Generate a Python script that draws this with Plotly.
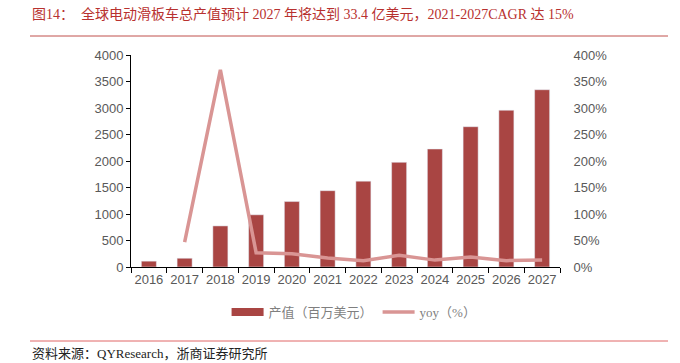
import plotly.graph_objects as go

years = ["2016", "2017", "2018", "2019", "2020", "2021", "2022", "2023", "2024", "2025", "2026", "2027"]
output_value = [110, 165, 775, 985, 1235, 1440, 1620, 1975, 2226, 2647, 2957, 3345]
yoy_years = ["2017", "2018", "2019", "2020", "2021", "2022", "2023", "2024", "2025", "2026", "2027"]
yoy_pct = [47, 372, 27, 25, 17, 12, 22, 13, 19, 12, 13]
left_ticks = [0, 500, 1000, 1500, 2000, 2500, 3000, 3500, 4000]
right_ticks = [0, 50, 100, 150, 200, 250, 300, 350, 400]

BAR = "#A94543"
LINE = "#D99594"
GRAY = "#595959"
TITLE_RED = "#B8312F"

L, R, T, B = 131, 120, 55, 96
W, H = 680, 363
pw = W - L - R
ph = H - T - B

def px(x):
    return (x - L) / pw

def py(y):
    return (H - B - y) / ph

fig = go.Figure()
fig.add_trace(go.Bar(x=years, y=output_value, marker_color=BAR, width=0.42,
                     showlegend=False, yaxis="y"))
fig.add_trace(go.Scatter(x=yoy_years, y=yoy_pct, mode="lines",
                         line=dict(color=LINE, width=3.5, shape="linear"),
                         showlegend=False, yaxis="y2"))
fig.add_trace(go.Scatter(x=[None], y=[None], mode="lines", name="产值（百万美元）",
                         line=dict(color=BAR, width=8)))
fig.add_trace(go.Scatter(x=[None], y=[None], mode="lines", name="yoy（%）",
                         line=dict(color=LINE, width=3.5)))

tickfont = dict(family="Liberation Sans, Arial, sans-serif", size=13, color=GRAY)

fig.update_layout(
    width=W, height=H,
    margin=dict(l=L, r=R, t=T, b=B, autoexpand=False),
    plot_bgcolor="white", paper_bgcolor="white",
    xaxis=dict(type="category", tickson="boundaries", ticks="outside", ticklen=5,
               tickcolor="black", showline=True, linecolor="black", linewidth=1,
               tickfont=tickfont, showgrid=False, range=[-0.5, 11.5], tickangle=0,
               automargin=False),
    yaxis=dict(range=[0, 4000], tickvals=left_ticks, ticks="outside", ticklen=4,
               tickcolor="black", showline=True, linecolor="black", linewidth=1,
               tickfont=tickfont, showgrid=False, zeroline=False, automargin=False),
    yaxis2=dict(range=[0, 400], tickvals=right_ticks,
                ticktext=[f"{v}%" for v in right_ticks], overlaying="y", side="right",
                showline=False, showgrid=False, zeroline=False, tickfont=tickfont,
                ticks="outside", ticklen=10, tickcolor="rgba(0,0,0,0)", automargin=False),
    legend=dict(orientation="h", x=0.52, xanchor="center", y=py(312), yanchor="middle",
                font=dict(family="Liberation Serif, Noto Sans CJK SC", size=13, color="#7F7F7F"),
                itemwidth=32, traceorder="normal"),
    bargap=0.5,
)

fig.add_annotation(xref="paper", yref="paper", x=px(30), y=py(14), xanchor="left", yanchor="middle",
                   text="图14：  全球电动滑板车总产值预计 2027 年将达到 33.4 亿美元，2021-2027CAGR 达 15%",
                   showarrow=False,
                   font=dict(family="Liberation Serif, Noto Sans CJK SC", size=14, color=TITLE_RED))
fig.add_annotation(xref="paper", yref="paper", x=px(30), y=py(353), xanchor="left", yanchor="middle",
                   text="资料来源：QYResearch，浙商证券研究所", showarrow=False,
                   font=dict(family="Liberation Serif, Noto Sans CJK SC", size=13, color="#222222"))
fig.add_shape(type="line", xref="paper", yref="paper", x0=px(30), x1=px(668), y0=py(36), y1=py(36),
              line=dict(color="#C0504D", width=1))
fig.add_shape(type="line", xref="paper", yref="paper", x0=px(30), x1=px(668), y0=py(341), y1=py(341),
              line=dict(color="#E06666", width=1))

fig.write_html("out.html", config={"displayModeBar": False},
               post_script="document.body.style.margin='0';document.body.style.overflow='hidden';")
